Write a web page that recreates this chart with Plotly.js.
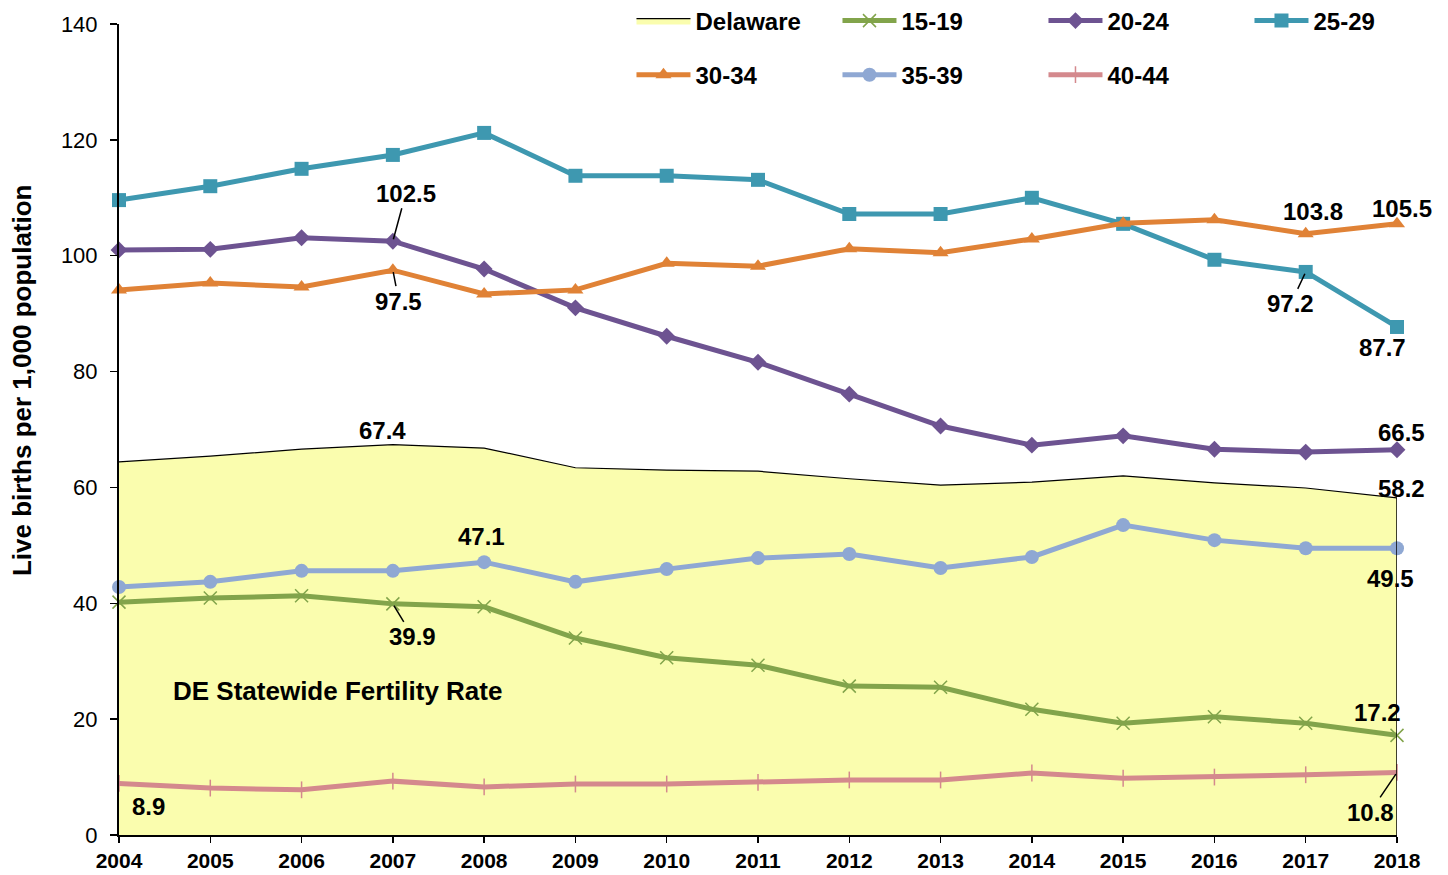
<!DOCTYPE html>
<html>
<head>
<meta charset="utf-8">
<script src="https://cdn.plot.ly/plotly-3.0.1.min.js"></script>
<style>
html, body { margin: 0; padding: 0; background: #ffffff; }
#chart { width: 1448px; height: 875px; }
</style>
</head>
<body>
<div id="chart"></div>
<script>
// ---- data ----
var years = [2004, 2005, 2006, 2007, 2008, 2009, 2010, 2011, 2012, 2013, 2014, 2015, 2016, 2017, 2018];
var delaware = [64.4, 65.4, 66.6, 67.4, 66.8, 63.4, 63.0, 62.8, 61.5, 60.4, 60.9, 62.0, 60.8, 59.9, 58.2];
var age1519 = [40.2, 40.9, 41.3, 39.9, 39.4, 34.0, 30.6, 29.3, 25.7, 25.5, 21.7, 19.3, 20.4, 19.3, 17.2];
var age2024 = [101.0, 101.1, 103.1, 102.5, 97.7, 91.0, 86.1, 81.6, 76.1, 70.6, 67.3, 68.9, 66.6, 66.1, 66.5];
var age2529 = [109.6, 112.0, 115.0, 117.4, 121.2, 113.8, 113.8, 113.1, 107.2, 107.2, 110.0, 105.5, 99.3, 97.2, 87.7];
var age3034 = [94.1, 95.3, 94.6, 97.5, 93.4, 94.1, 98.7, 98.2, 101.2, 100.5, 102.9, 105.6, 106.2, 103.8, 105.5];
var age3539 = [42.8, 43.7, 45.6, 45.6, 47.1, 43.7, 45.9, 47.8, 48.5, 46.1, 48.0, 53.5, 50.9, 49.5, 49.5];
var age4044 = [8.9, 8.1, 7.8, 9.3, 8.3, 8.8, 8.8, 9.1, 9.5, 9.5, 10.7, 9.8, 10.0, 10.4, 10.8];
var yTicks = [0, 20, 40, 60, 80, 100, 120, 140];
var noteText = "DE Statewide Fertility Rate";
var yTitle = "Live births per 1,000 population";

// ---- styles ----
var FONT = "Liberation Sans, Arial, sans-serif";
function lineTrace(name, y, color, symbol, msize, legend, mline) {
  var mk = {symbol: symbol, size: msize, color: color};
  if (mline) mk.line = {color: color, width: 1.5};
  return {
    type: "scatter", mode: "lines+markers", x: years, y: y, name: name,
    line: {color: color, width: 5}, marker: mk, cliponaxis: false, legend: legend
  };
}

var traces = [
  {type: "scatter", mode: "lines", x: years, y: delaware, name: "Delaware",
   fill: "tozeroy", fillcolor: "#FAFDAE", line: {color: "#000000", width: 1.2},
   cliponaxis: false, legend: "legend"},
  lineTrace("15-19", age1519, "#82A44B", "x-thin-open", 13, "legend", true),
  lineTrace("20-24", age2024, "#6D5391", "diamond", 13, "legend"),
  lineTrace("25-29", age2529, "#3E98B0", "square", 14, "legend"),
  lineTrace("30-34", age3034, "#E08236", "triangle-up", 14, "legend2"),
  lineTrace("35-39", age3539, "#8FA8D3", "circle", 14, "legend2"),
  lineTrace("40-44", age4044, "#D4898D", "line-ns-open", 12, "legend2", true)
];

// annotation helpers: labels derived from the data values
function lab(series, i, opts) {
  var a = {
    x: years[i], y: series[i], xref: "x", yref: "y",
    text: series[i].toFixed(1), xanchor: "center", yanchor: "middle",
    font: {family: FONT, size: 24, color: "#000000", weight: "bold"},
    showarrow: false
  };
  for (var k in opts) a[k] = opts[k];
  return a;
}
function arrowLab(series, i, ax, ay) {
  return lab(series, i, {showarrow: true, arrowhead: 0, arrowwidth: 1.5,
    arrowcolor: "#000000", ax: ax, ay: ay, standoff: 2});
}

var annotations = [
  arrowLab(age2024, 3, 13, -48),
  arrowLab(age3034, 3, 6, 31),
  arrowLab(age1519, 3, 20, 33),
  arrowLab(age2529, 13, -15, 32),
  arrowLab(age4044, 14, -27, 40),
  lab(delaware, 3, {xshift: -10, yshift: 14}),
  lab(age3539, 4, {xshift: -3, yshift: 26}),
  lab(age3034, 13, {xshift: 7, yshift: 22}),
  lab(age3034, 14, {xshift: 5, yshift: 15}),
  lab(age2529, 14, {xshift: -15, yshift: -21}),
  lab(age2024, 14, {xshift: 4, yshift: 17}),
  lab(delaware, 14, {xshift: 4, yshift: 9}),
  lab(age3539, 14, {xshift: -7, yshift: -30}),
  lab(age1519, 14, {xshift: -20, yshift: 23}),
  lab(age4044, 0, {xshift: 29, yshift: -23}),
  {x: 0.171, y: 0.178, xref: "paper", yref: "paper", xanchor: "center", yanchor: "middle",
   text: noteText, showarrow: false,
   font: {family: FONT, size: 26, color: "#000000", weight: "bold"}},
  {x: -0.0759, y: 0.561, xref: "paper", yref: "paper", xanchor: "center", yanchor: "middle",
   text: yTitle, textangle: -90, showarrow: false,
   font: {family: FONT, size: 26, color: "#000000", weight: "bold"}}
];

var shapes = [
  {type: "line", xref: "x", yref: "y", x0: years[years.length - 1], x1: years[years.length - 1],
   y0: 0, y1: delaware[delaware.length - 1], line: {color: "#000000", width: 1.5}}
];

var legendFont = {family: FONT, size: 24, color: "#000000", weight: "bold"};
function legendCfg(y) {
  return {orientation: "h", x: 0.401, y: y, xanchor: "left", yanchor: "middle",
    font: legendFont, bgcolor: "rgba(0,0,0,0)", itemwidth: 54,
    entrywidth: 137, entrywidthmode: "pixels", traceorder: "normal"};
}
var layout = {
  width: 1448, height: 875,
  margin: {l: 119, r: 51, t: 24, b: 40, autoexpand: false},
  paper_bgcolor: "#ffffff", plot_bgcolor: "#ffffff",
  font: {family: FONT, color: "#000000"},
  showlegend: true,
  legend: legendCfg(1.0037),
  legend2: legendCfg(0.937),
  xaxis: {
    range: [years[0], years[years.length - 1]], tickvals: years, ticktext: years.map(String),
    showgrid: false, zeroline: false, showline: true, linecolor: "#000000", linewidth: 2,
    ticks: "outside", ticklen: 6, tickwidth: 1.5, tickcolor: "#000000",
    tickfont: {family: FONT, size: 21, color: "#000000", weight: "bold"}, fixedrange: true
  },
  yaxis: {
    range: [0, 140], tickvals: yTicks, showgrid: false, zeroline: false,
    showline: true, linecolor: "#000000", linewidth: 2,
    ticks: "outside", ticklen: 7, tickwidth: 1.5, tickcolor: "#000000",
    ticklabelstandoff: 8,
    tickfont: {family: FONT, size: 22, color: "#000000"},
    fixedrange: true
  },
  annotations: annotations,
  shapes: shapes
};

Plotly.newPlot("chart", traces, layout, {displayModeBar: false, staticPlot: true});
</script>
</body>
</html>
